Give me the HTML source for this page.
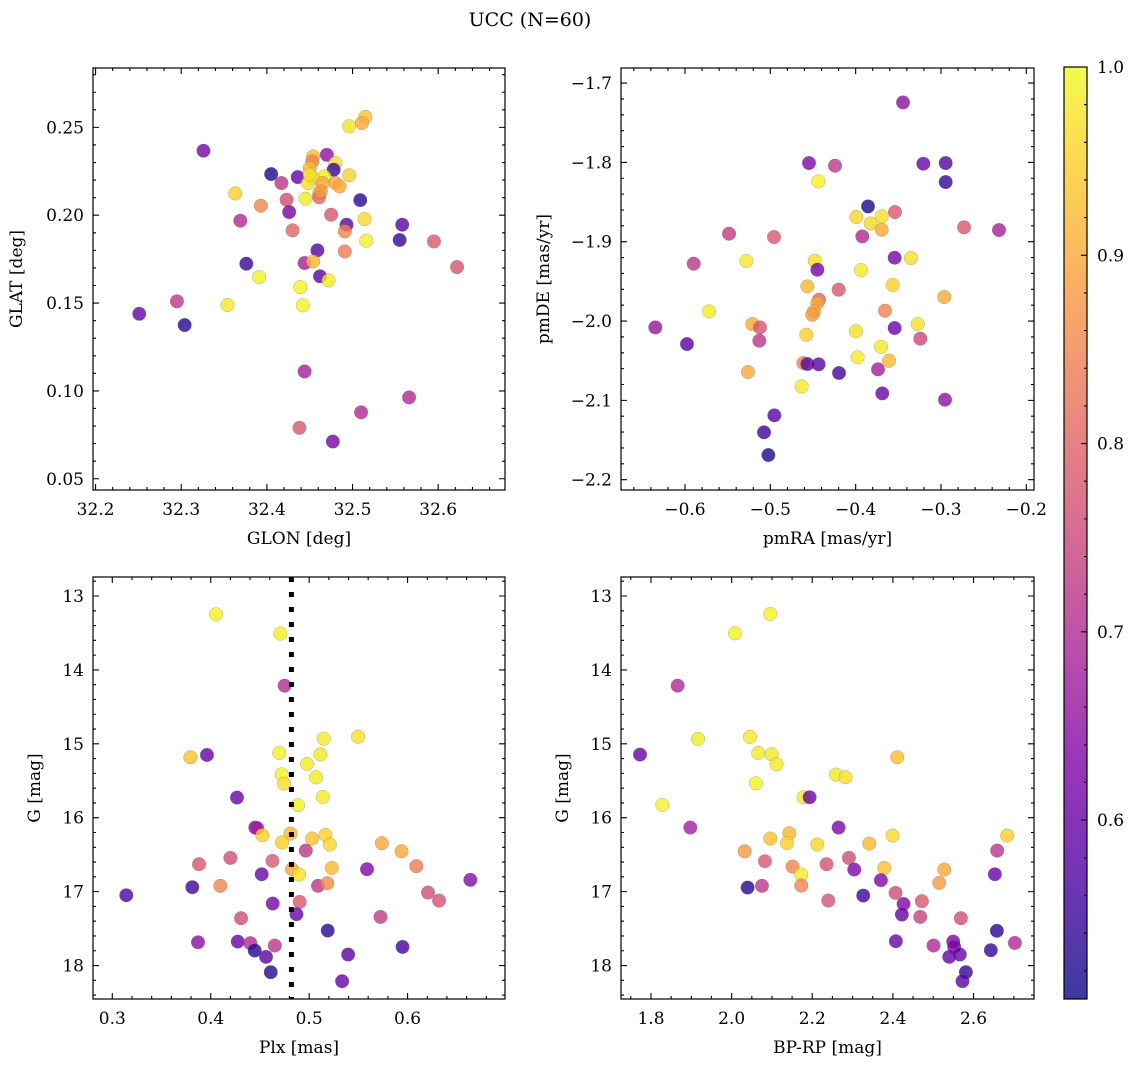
<!DOCTYPE html>
<html><head><meta charset="utf-8"><style>
html,body{margin:0;padding:0;background:#fff;}
svg{display:block;font-family:"DejaVu Serif","Liberation Serif",serif;}
</style></head><body>
<svg id="chart" width="1136" height="1067" viewBox="0 0 1136 1067" xmlns="http://www.w3.org/2000/svg">
<defs>
<linearGradient id="plasma" x1="0" y1="1" x2="0" y2="0">
<stop offset="0" stop-color="#0d0887"/><stop offset="0.125" stop-color="#4c02a1"/>
<stop offset="0.25" stop-color="#7e03a8"/><stop offset="0.375" stop-color="#a92395"/>
<stop offset="0.5" stop-color="#cc4778"/><stop offset="0.625" stop-color="#e56b5d"/>
<stop offset="0.75" stop-color="#f89540"/><stop offset="0.875" stop-color="#fdc527"/>
<stop offset="1" stop-color="#f0f921"/>
</linearGradient>
</defs>
<text x="530" y="26" font-size="19" text-anchor="middle">UCC (N=60)</text>
</svg>
<script>
// Panel 1: GLON vs GLAT
const glon1 = [32.515,32.511,32.496,32.326,32.470,32.454,32.453,32.480,32.478,32.450,32.405,32.436,32.417,32.467,32.454,32.448,32.496,32.480,32.485,32.363,32.461,32.461,32.445,32.393,32.423,32.509,32.426,32.475,32.369,32.493,32.514,32.558,32.430,32.491,32.555,32.516,32.595,32.459,32.491,32.444,32.454,32.376,32.622,32.462,32.472,32.391,32.439,32.295,32.354,32.442,32.251,32.304,32.444,32.566,32.510,32.438,32.477,32.465,32.463,32.450];
const glat1 = [0.256,0.2525,0.2506,0.2367,0.2344,0.2335,0.2306,0.2297,0.2259,0.2268,0.2234,0.2217,0.2183,0.2221,0.2212,0.2183,0.2227,0.2183,0.2164,0.2124,0.2126,0.2102,0.2094,0.2054,0.2088,0.2086,0.2018,0.2003,0.1969,0.1946,0.1978,0.1946,0.1914,0.1908,0.1859,0.1855,0.1851,0.18,0.1794,0.1728,0.1737,0.1724,0.1705,0.1652,0.1629,0.1648,0.1591,0.151,0.1489,0.1487,0.1439,0.1375,0.1111,0.0963,0.0878,0.079,0.0712,0.2183,0.2136,0.2231];
const c1 = [0.93,0.9,0.97,0.62,0.65,0.92,0.85,0.97,0.55,0.92,0.52,0.6,0.72,0.98,0.97,0.97,0.95,0.9,0.9,0.95,0.95,0.8,0.98,0.85,0.76,0.53,0.62,0.78,0.7,0.58,0.96,0.58,0.8,0.85,0.54,0.99,0.78,0.58,0.84,0.68,0.92,0.55,0.77,0.58,0.98,0.99,0.99,0.72,0.98,0.99,0.6,0.53,0.68,0.7,0.7,0.78,0.62,0.9,0.88,0.97];
// Panel 2: pmRA vs pmDE
const pmra2 = [-0.3445,-0.4547,-0.4242,-0.3207,-0.2945,-0.2945,-0.4438,-0.3855,-0.3992,-0.3695,-0.3824,-0.3695,-0.3539,-0.3922,-0.273,-0.232,-0.5484,-0.4957,-0.5898,-0.5281,-0.448,-0.4449,-0.3543,-0.3352,-0.3938,-0.3566,-0.4566,-0.4199,-0.443,-0.4449,-0.4488,-0.4508,-0.2961,-0.5719,-0.3656,-0.6348,-0.5211,-0.5121,-0.5129,-0.5977,-0.4578,-0.3996,-0.3543,-0.3273,-0.3242,-0.3703,-0.3977,-0.3609,-0.4613,-0.4566,-0.4434,-0.5262,-0.4195,-0.3738,-0.4633,-0.3688,-0.2953,-0.4953,-0.5074,-0.5023];
const pmde2 = [-1.7244,-1.8008,-1.8042,-1.8017,-1.8008,-1.8248,-1.8239,-1.8555,-1.8689,-1.8681,-1.8769,-1.8849,-1.8626,-1.8933,-1.8819,-1.8853,-1.8899,-1.8941,-1.9277,-1.9244,-1.924,-1.9353,-1.9202,-1.9206,-1.9357,-1.9546,-1.9563,-1.9605,-1.9731,-1.9773,-1.9878,-1.992,-1.9697,-1.9878,-1.987,-2.008,-2.0038,-2.008,-2.0248,-2.029,-2.0172,-2.013,-2.0088,-2.0038,-2.0223,-2.0324,-2.0458,-2.05,-2.0529,-2.0542,-2.0546,-2.0643,-2.0655,-2.0609,-2.0824,-2.0912,-2.0992,-2.1189,-2.1403,-2.1689];
const c2 = [0.65,0.63,0.72,0.6,0.57,0.54,0.99,0.52,0.96,0.97,0.96,0.9,0.78,0.7,0.78,0.68,0.73,0.78,0.72,0.98,0.97,0.62,0.62,0.97,0.98,0.95,0.92,0.78,0.8,0.9,0.9,0.88,0.9,0.98,0.85,0.66,0.9,0.77,0.72,0.58,0.95,0.97,0.6,0.97,0.75,0.98,0.98,0.92,0.85,0.58,0.58,0.9,0.56,0.68,0.98,0.6,0.65,0.58,0.55,0.52];
// Panel 3: Plx vs G
const plx3 = [0.4054,0.4707,0.4751,0.5148,0.5497,0.3793,0.3962,0.4697,0.5114,0.4978,0.4721,0.4745,0.507,0.5138,0.4887,0.4267,0.4453,0.4473,0.4524,0.481,0.4724,0.503,0.5166,0.521,0.4966,0.5739,0.5939,0.3881,0.42,0.4627,0.6089,0.523,0.4826,0.4897,0.5588,0.4518,0.6638,0.3813,0.4098,0.509,0.5185,0.3142,0.6208,0.632,0.4904,0.463,0.4871,0.4308,0.5725,0.5189,0.3871,0.4275,0.4403,0.4651,0.4447,0.4562,0.5396,0.5949,0.461,0.5335];
const g3 = [13.248,13.509,14.213,14.93,14.903,15.182,15.151,15.124,15.142,15.272,15.412,15.538,15.453,15.719,15.831,15.728,16.133,16.142,16.237,16.215,16.336,16.282,16.233,16.363,16.445,16.345,16.454,16.629,16.544,16.584,16.656,16.679,16.697,16.769,16.697,16.765,16.841,16.94,16.922,16.922,16.886,17.049,17.013,17.121,17.139,17.161,17.306,17.36,17.342,17.527,17.685,17.676,17.698,17.73,17.797,17.883,17.851,17.748,18.09,18.212];
const c3 = [0.99,0.99,0.7,0.98,0.97,0.93,0.6,0.99,0.98,0.98,0.99,0.97,0.98,0.98,0.99,0.6,0.63,0.68,0.95,0.92,0.95,0.93,0.95,0.96,0.72,0.9,0.9,0.78,0.76,0.78,0.84,0.92,0.9,0.97,0.63,0.6,0.64,0.55,0.85,0.72,0.86,0.57,0.76,0.77,0.78,0.62,0.6,0.76,0.73,0.53,0.65,0.6,0.7,0.72,0.53,0.58,0.58,0.56,0.53,0.6];
const plxLine = 0.482;
// Panel 4: BP-RP vs G
const bprp4 = [2.0959,2.0083,1.8661,1.9165,2.0455,1.7727,2.0661,2.0992,2.1116,2.4107,2.0603,2.2587,2.2826,2.1785,2.1934,1.8281,1.8975,2.2653,2.143,2.0959,2.1372,2.2124,2.3413,2.3992,2.6835,2.0322,2.0826,2.2909,2.6587,2.1512,2.2355,2.3041,2.3785,2.1727,2.5273,2.5149,2.3702,2.6529,2.0397,2.0752,2.1727,2.3264,2.4066,2.4264,2.4223,2.4719,2.4678,2.2397,2.5686,2.4074,2.5008,2.5496,2.5521,2.5661,2.5397,2.6579,2.643,2.7025,2.581,2.5727];
const g4 = [13.243,13.505,14.213,14.934,14.907,15.146,15.124,15.142,15.277,15.182,15.534,15.417,15.453,15.723,15.723,15.827,16.133,16.133,16.21,16.282,16.341,16.363,16.35,16.242,16.242,16.454,16.589,16.544,16.445,16.661,16.629,16.702,16.679,16.769,16.702,16.882,16.846,16.765,16.945,16.922,16.918,17.053,17.017,17.166,17.31,17.13,17.342,17.121,17.36,17.671,17.73,17.676,17.748,17.851,17.883,17.531,17.793,17.694,18.09,18.212];
const c4 = [0.99,0.99,0.7,0.98,0.98,0.6,0.98,0.98,0.98,0.93,0.99,0.98,0.97,0.98,0.6,0.99,0.68,0.63,0.92,0.93,0.95,0.96,0.92,0.96,0.95,0.88,0.78,0.76,0.72,0.85,0.77,0.63,0.93,0.98,0.9,0.88,0.63,0.6,0.53,0.72,0.85,0.55,0.76,0.63,0.6,0.78,0.74,0.77,0.76,0.6,0.7,0.63,0.62,0.6,0.6,0.53,0.54,0.7,0.54,0.58];
// Colorbar
const cbMin = 0.505, cbMax = 1.0;
const cbTicks = [0.6,0.7,0.8,0.9,1.0];

const NS = "http://www.w3.org/2000/svg";
const svg = document.getElementById("chart");
function mk(tag, attrs, parent){
  const e = document.createElementNS(NS, tag);
  for (const k in attrs) e.setAttribute(k, attrs[k]);
  (parent || svg).appendChild(e);
  return e;
}
const plasma = [[13,8,135],[76,2,161],[126,3,168],[169,35,149],[204,71,120],[229,107,93],[248,149,64],[253,197,39],[240,249,33]];
function cmap(v){
  let t = (v - cbMin) / (cbMax - cbMin);
  t = Math.max(0, Math.min(1, t)) * 8;
  const i = Math.min(7, Math.floor(t)), f = t - i;
  const a = plasma[i], b = plasma[i+1];
  return "rgb(" + [0,1,2].map(k => Math.round(a[k] + (b[k]-a[k])*f)).join(",") + ")";
}
function fmtMinus(s){ return s.replace("-", "\u2212"); }

function panel(o){
  const g = mk("g", {});
  
  
  const X = v => o.x0 + (v - o.xd[0]) / (o.xd[1] - o.xd[0]) * (o.x1 - o.x0);
  const Y = v => o.yInv ? o.y0 + (v - o.yd[0]) / (o.yd[1] - o.yd[0]) * (o.y1 - o.y0)
                        : o.y1 - (v - o.yd[0]) / (o.yd[1] - o.yd[0]) * (o.y1 - o.y0);
  const pts = mk("g", {}, g);
  
  
  for (let i = 0; i < o.xs.length; i++){
    const c = mk("circle", {cx: X(o.xs[i]).toFixed(2), cy: Y(o.ys[i]).toFixed(2), r: 6.8, fill: cmap(o.cs[i]), "fill-opacity": 0.8, stroke: "#666", "stroke-opacity": 0.6, "stroke-width": 0.4}, pts);
    
    
  }
  if (o.vline !== undefined){
    const l = mk("line", {x1: X(o.vline), x2: X(o.vline), y1: o.y0, y2: o.y1, stroke: "#000", "stroke-width": 5, "stroke-dasharray": "5 10"}, g);
    
    
  }
  const fr = mk("rect", {x: o.x0, y: o.y0, width: o.x1 - o.x0, height: o.y1 - o.y0, fill: "none", stroke: "#000", "stroke-width": 1.2}, g);
  
  
  let d = "";
  const xm0 = Math.ceil(o.xd[0] / o.xminor - 1e-9), xm1 = Math.floor(o.xd[1] / o.xminor + 1e-9);
  for (let k = xm0; k <= xm1; k++){
    const x = X(k * o.xminor);
    d += `M${x},${o.y1}v-3M${x},${o.y0}v3`;
  }
  const ym0 = Math.ceil(o.yd[0] / o.yminor - 1e-9), ym1 = Math.floor(o.yd[1] / o.yminor + 1e-9);
  for (let k = ym0; k <= ym1; k++){
    const y = Y(k * o.yminor);
    d += `M${o.x0},${y}h3M${o.x1},${y}h-3`;
  }
  o.xt.forEach(v => { const x = X(v); d += `M${x},${o.y1}v-6M${x},${o.y0}v6`; });
  o.yt.forEach(v => { const y = Y(v); d += `M${o.x0},${y}h6M${o.x1},${y}h-6`; });
  const tk = mk("path", {d: d, stroke: "#000", "stroke-width": 1.1, fill: "none"}, g);
  
  
  o.xt.forEach(v => {
    const t = mk("text", {x: X(v), y: o.y1 + 25, "font-size": 17, "text-anchor": "middle"}, g);
    t.textContent = fmtMinus(v.toFixed(o.xdig));
    
    
  });
  o.yt.forEach(v => {
    const t = mk("text", {x: o.x0 - 9, y: Y(v) + 6, "font-size": 17, "text-anchor": "end"}, g);
    t.textContent = fmtMinus(v.toFixed(o.ydig));
    
    
  });
  const xl = mk("text", {x: (o.x0 + o.x1) / 2, y: o.y1 + 54, "font-size": 17, "text-anchor": "middle"}, g);
  xl.textContent = o.xlabel;
  
  
  const cy = (o.y0 + o.y1) / 2;
  const yl = mk("text", {x: o.ylx, y: cy, "font-size": 17, "text-anchor": "middle", transform: `rotate(-90 ${o.ylx} ${cy})`}, g);
  yl.textContent = o.ylabel;
  
  
}
function rng(a, b, s){ const r = []; const n = Math.round((b - a) / s); for (let i = 0; i <= n; i++) r.push(+(a + i * s).toFixed(6)); return r; }

panel({name: "glon-glat-panel", x0: 93, x1: 505, y0: 68, y1: 490, xd: [32.197, 32.678], yd: [0.0436, 0.2838],
  xs: glon1, ys: glat1, cs: c1, xt: rng(32.2, 32.6, 0.1), yt: rng(0.05, 0.25, 0.05), xminor: 0.02, yminor: 0.01,
  xdig: 1, ydig: 2, xlabel: "GLON [deg]", ylabel: "GLAT [deg]", ylx: 22});
panel({name: "pm-panel", x0: 621, x1: 1034, y0: 68, y1: 490, xd: [-0.675, -0.191], yd: [-2.213, -1.681],
  xs: pmra2, ys: pmde2, cs: c2, xt: rng(-0.6, -0.2, 0.1), yt: rng(-2.2, -1.7, 0.1), xminor: 0.02, yminor: 0.02,
  xdig: 1, ydig: 1, xlabel: "pmRA [mas/yr]", ylabel: "pmDE [mas/yr]", ylx: 549});
panel({name: "plx-g-panel", x0: 93, x1: 505, y0: 577, y1: 999, xd: [0.2804, 0.699], yd: [12.743, 18.453], yInv: true,
  xs: plx3, ys: g3, cs: c3, xt: rng(0.3, 0.6, 0.1), yt: rng(13, 18, 1), xminor: 0.02, yminor: 0.2,
  xdig: 1, ydig: 0, xlabel: "Plx [mas]", ylabel: "G [mag]", ylx: 40, vline: plxLine});
panel({name: "cmd-panel", x0: 621, x1: 1034, y0: 577, y1: 999, xd: [1.7256, 2.750], yd: [12.743, 18.453], yInv: true,
  xs: bprp4, ys: g4, cs: c4, xt: rng(1.8, 2.6, 0.2), yt: rng(13, 18, 1), xminor: 0.05, yminor: 0.2,
  xdig: 1, ydig: 0, xlabel: "BP-RP [mag]", ylabel: "G [mag]", ylx: 568});

(function(){
  const cx0 = 1064, cx1 = 1087, cy0 = 67, cy1 = 999;
  const g = mk("g", {});
  
  
  const Yc = v => cy1 - (v - cbMin) / (cbMax - cbMin) * (cy1 - cy0);
  mk("rect", {x: cx0, y: cy0, width: cx1 - cx0, height: cy1 - cy0, fill: "url(#plasma)", "fill-opacity": 0.8}, g);
  mk("rect", {x: cx0, y: cy0, width: cx1 - cx0, height: cy1 - cy0, fill: "none", stroke: "#000", "stroke-width": 1.2}, g);
  let d = "";
  for (let k = Math.ceil(cbMin / 0.02); k <= Math.floor(cbMax / 0.02 + 1e-9); k++){ d += `M${cx1},${Yc(k * 0.02)}h-3`; }
  cbTicks.forEach(v => { d += `M${cx1},${Yc(v)}h-6`; });
  mk("path", {d: d, stroke: "#000", "stroke-width": 1.1}, g);
  cbTicks.forEach(v => {
    const t = mk("text", {x: cx1 + 10, y: Yc(v) + 6, "font-size": 17}, g);
    t.textContent = v.toFixed(1);
    
    
  });
})();
</script>
</body></html>
